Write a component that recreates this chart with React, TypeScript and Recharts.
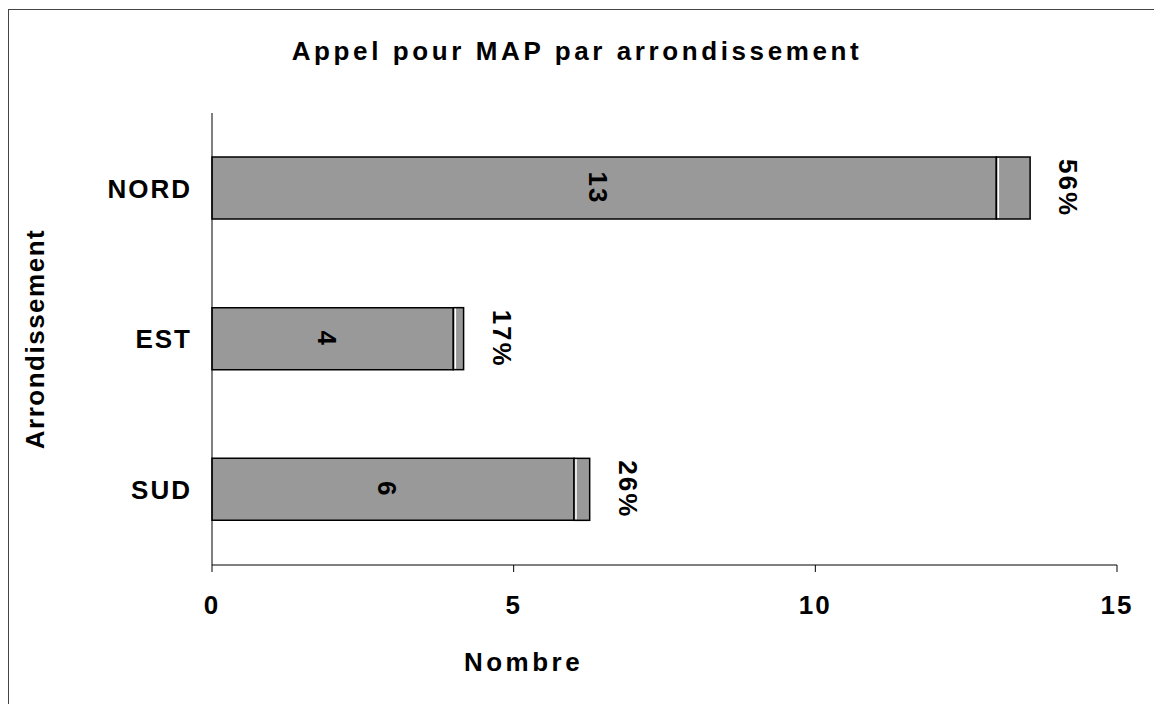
import { BarChart, Bar, XAxis, YAxis, LabelList, Label } from 'recharts';

// Appel pour MAP par arrondissement

const categories = ['NORD', 'EST', 'SUD'];
const counts = [13, 4, 6];
const shares = [0.56, 0.17, 0.26];
const shareLabels = ['56%', '17%', '26%'];
const xTicks = [0, 5, 10, 15];

const data = categories.map((name, i) => ({
  name,
  count: counts[i],
  share: shares[i],
  shareLabel: shareLabels[i],
}));

const FONT = '"Liberation Sans", Arial, sans-serif';
const BAR_FILL = '#999999';

const textStyle = {
  fontFamily: FONT,
  fontWeight: 700,
  fontSize: 26,
  fill: '#000',
  letterSpacing: 2,
};

const CountLabel = (props: any) => {
  const { x, y, width, height, value } = props;
  const cx = x + width / 2 - 6;
  const cy = y + height / 2;
  return (
    <text
      x={cx}
      y={cy}
      textAnchor="middle"
      dominantBaseline="central"
      transform={`rotate(90, ${cx}, ${cy})`}
      style={textStyle}
    >
      {value}
    </text>
  );
};

const ShareLabel = (props: any) => {
  const { x, y, width, height, value } = props;
  const cx = x + width + 38;
  const cy = y + height / 2;
  return (
    <text
      x={cx}
      y={cy}
      textAnchor="middle"
      dominantBaseline="central"
      transform={`rotate(90, ${cx}, ${cy})`}
      style={textStyle}
    >
      {value}
    </text>
  );
};

const ShareShape = (props: any) => {
  const { x, y, width, height } = props;
  return (
    <g>
      <rect x={x} y={y} width={width} height={height} fill={BAR_FILL} stroke="#000" strokeWidth={1.5} />
      <line x1={x + 2} y1={y + 1} x2={x + 2} y2={y + height - 1} stroke="#fff" strokeWidth={1.5} />
    </g>
  );
};

export default function App() {
  return (
    <div style={{ position: 'absolute', left: 0, top: 0, width: 1154, height: 704, background: '#fff' }}>
      <div
        style={{
          position: 'absolute',
          left: 8,
          top: 9,
          width: 1146,
          height: 695,
          borderTop: '1px solid #444',
          borderLeft: '1px solid #444',
        }}
      />
      <div
        style={{
          position: 'absolute',
          left: 0,
          top: 36,
          width: 1154,
          textAlign: 'center',
          fontFamily: FONT,
          fontWeight: 700,
          fontSize: 26,
          letterSpacing: 3.6,
        }}
      >
        Appel pour MAP par arrondissement
      </div>
      <div style={{ position: 'absolute', left: 0, top: 0 }}>
        <BarChart
          width={1154}
          height={704}
          data={data}
          layout="vertical"
          margin={{ top: 113, right: 37, bottom: 0, left: 0 }}
          barSize={62}
        >
          <XAxis
            type="number"
            domain={[0, 15]}
            ticks={xTicks}
            tickSize={7}
            tickMargin={24}
            stroke="#000"
            tick={textStyle}
            height={139}
          >
            <Label
              value="Nombre"
              position="center"
              dx={-141}
              dy={27}
              style={{ ...textStyle, letterSpacing: 3.5 }}
            />
          </XAxis>
          <YAxis
            type="category"
            dataKey="name"
            width={212}
            tickSize={0}
            tickMargin={20}
            stroke="#000"
            tick={textStyle}
          >
            <Label
              value="Arrondissement"
              position="center"
              angle={-90}
              dx={-71}
              style={{ ...textStyle, letterSpacing: 1.5 }}
            />
          </YAxis>
          <Bar
            dataKey="count"
            stackId="a"
            fill={BAR_FILL}
            stroke="#000"
            strokeWidth={1.5}
            isAnimationActive={false}
          >
            <LabelList dataKey="count" content={<CountLabel />} />
          </Bar>
          <Bar dataKey="share" stackId="a" shape={<ShareShape />} isAnimationActive={false}>
            <LabelList dataKey="shareLabel" content={<ShareLabel />} />
          </Bar>
        </BarChart>
      </div>
    </div>
  );
}
